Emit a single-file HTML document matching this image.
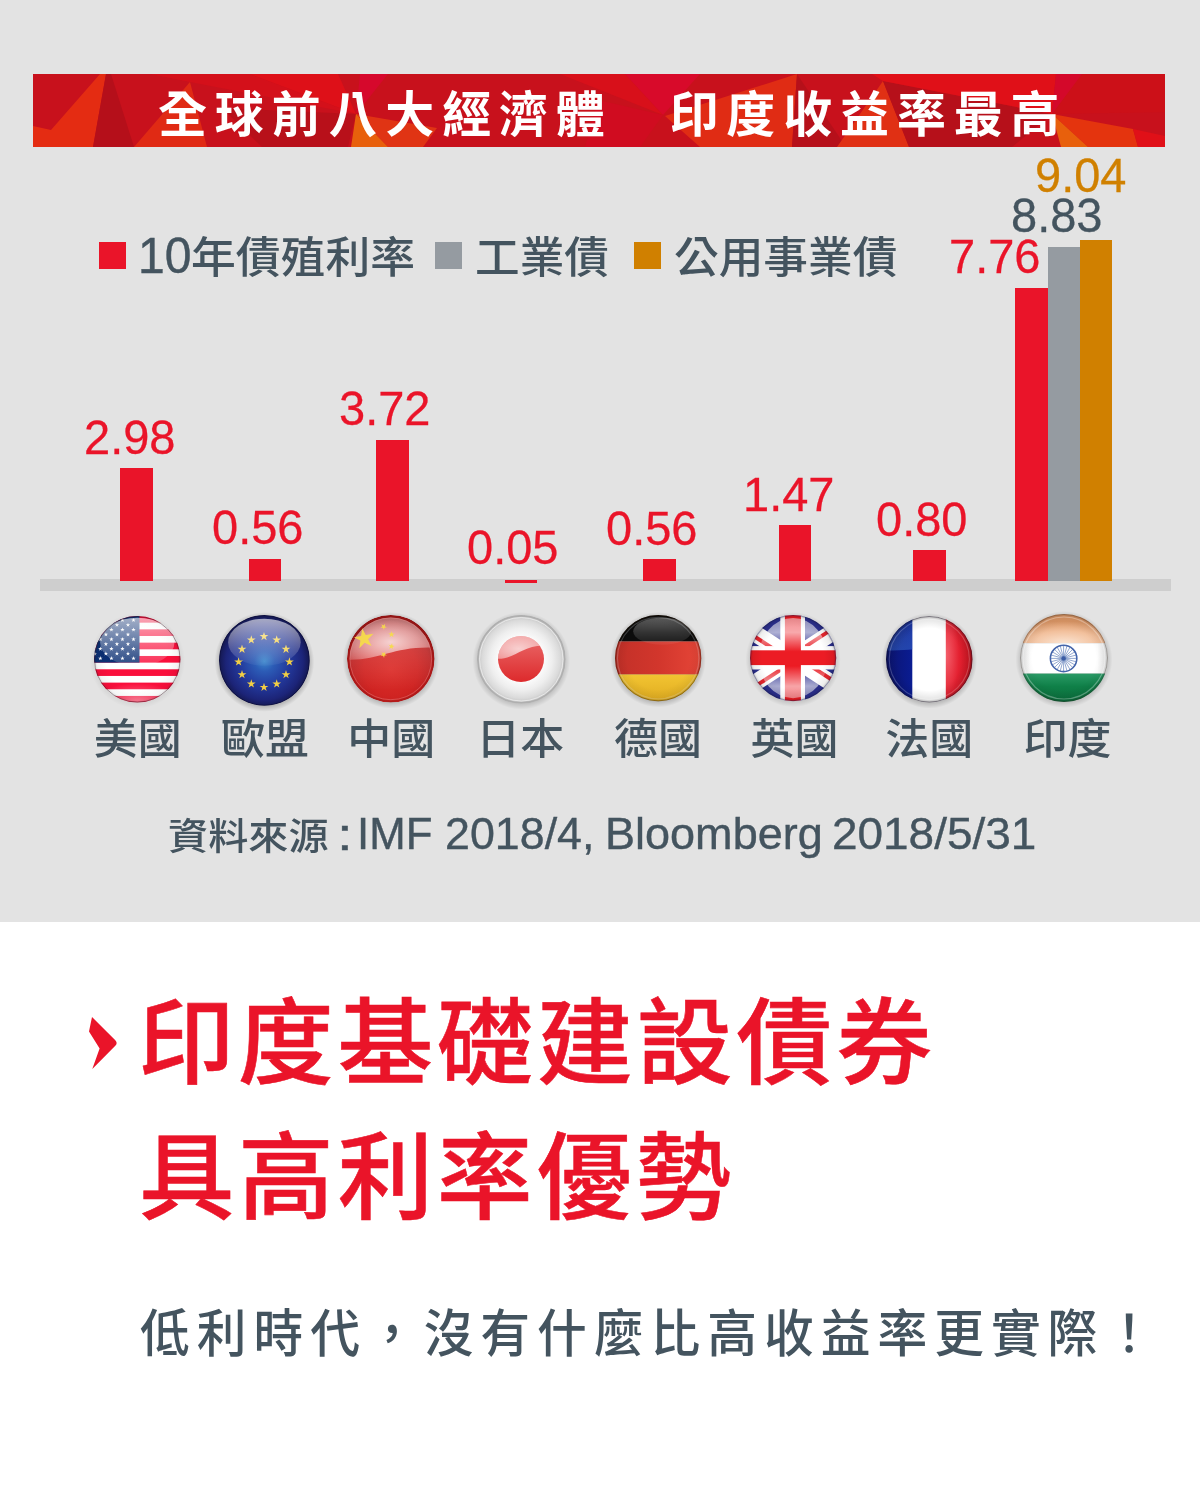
<!DOCTYPE html>
<html lang="zh-Hant">
<head>
<meta charset="utf-8">
<title>印度基礎建設債券 具高利率優勢</title>
<style>
html,body{margin:0;padding:0;}
body{width:1200px;height:1500px;background:#ffffff;position:relative;overflow:hidden;
 font-family:"Liberation Sans","Noto Sans CJK TC",sans-serif;}
.abs{position:absolute;}
.t{position:absolute;white-space:nowrap;line-height:1;transform-origin:0 0;}
#top{position:absolute;left:0;top:0;width:1200px;height:922.4px;background:#e3e3e3;}
.val{font-size:50px;font-weight:400;-webkit-text-stroke:0.3px currentColor;}
.lbl{font-size:44px;color:#44545f;font-weight:500;}
.leg{font-size:44px;color:#44545f;font-weight:500;}
.bar{position:absolute;background:#ea1429;}
.sq{position:absolute;width:27px;height:27px;top:242px;}
</style>
</head>
<body>
<div id="top"></div>

<svg class="abs" style="left:33px;top:74px" width="1132" height="73" viewBox="33 74 1132 73">
<rect x="33" y="74" width="1132" height="73" fill="#c8111c"/>
<polygon fill="#e42c12" points="100,74 106,74 93,147 33,147 33,126 51,130"/>
<polygon fill="#b50f1a" points="106,74 111,74 134,147 93,147"/>
<polygon fill="#d4101a" points="356,114 190,82 150,74 250,74"/>
<polygon fill="#de1018" points="356,114 250,74 338,74"/>
<polygon fill="#e02a14" points="190,82 207,147 134,147"/>
<polygon fill="#b8101a" points="356,114 222,108 262,147 348,147"/>
<polygon fill="#d6082c" points="356,114 360,74 388,74"/>
<polygon fill="#e03414" points="356,114 437,128 423,147 388,147"/>
<polygon fill="#e8600c" points="356,114 388,147 351,147"/>
<polygon fill="#d8101a" points="663,115 560,74 625,74"/>
<polygon fill="#d80a2a" points="663,115 625,74 700,74"/>
<polygon fill="#d00c20" points="663,115 598,100 585,147 640,147"/>
<polygon fill="#e02c14" points="797,74 792,147 700,147 665,116"/>
<polygon fill="#b6101a" points="797,74 846,147 792,147"/>
<polygon fill="#e03014" points="883,81 837,147 909,147"/>
<polygon fill="#b6101a" points="883,81 909,147 1012,147 1052,114"/>
<polygon fill="#e01018" points="883,81 872,74 1056,74 1052,114"/>
<polygon fill="#cc1018" points="1052,114 1082,74 1165,74 1165,112"/>
<polygon fill="#d4082a" points="1052,114 1056,74 1082,74"/>
<polygon fill="#e4340e" points="1052,114 1133,129 1138,147 1088,147"/>
<polygon fill="#e8600c" points="1052,114 1088,147 1061,147"/>
<polygon fill="#e01018" points="1133,129 1165,136 1165,147 1138,147"/>
</svg>
<div class="t" id="title" style="left:158.43px;top:90.90px;transform:scale(0.9989,0.9959);font-size:49px;letter-spacing:7.9px;color:#fff;font-weight:700;">全球前八大經濟體　印度收益率最高</div>
<div class="sq" style="left:99px;background:#ea1429"></div>
<div class="t" id="leg1n" style="left:138.19px;top:231.89px;transform:scale(0.9801,1.0092);font-size:49px;color:#44545f;font-weight:400;-webkit-text-stroke:0.45px #44545f;">10</div>
<div class="t leg" id="leg1" style="left:191.37px;top:237.31px;transform:scale(1.0183,0.9730);">年債殖利率</div>
<div class="sq" style="left:435px;background:#959ba1"></div>
<div class="t leg" id="leg2" style="left:474.97px;top:237.18px;transform:scale(1.0143,0.9754);">工業債</div>
<div class="sq" style="left:634px;background:#d08000"></div>
<div class="t leg" id="leg3" style="left:674.16px;top:237.25px;transform:scale(1.0155,0.9851);">公用事業債</div>
<div class="abs" style="left:40px;top:579.4px;width:1131px;height:11.8px;background:#cecece"></div>
<div class="bar" style="left:120px;top:467.6px;width:33px;height:113.2px;background:#ea1429"></div>
<div class="bar" style="left:248.8px;top:558.8px;width:32px;height:22px;background:#ea1429"></div>
<div class="bar" style="left:376.2px;top:440px;width:32.6px;height:140.8px;background:#ea1429"></div>
<div class="bar" style="left:642.8px;top:559px;width:33px;height:21.8px;background:#ea1429"></div>
<div class="bar" style="left:779px;top:525px;width:32px;height:55.8px;background:#ea1429"></div>
<div class="bar" style="left:913px;top:550px;width:32.8px;height:30.8px;background:#ea1429"></div>
<div class="bar" style="left:1015.4px;top:287.6px;width:32.6px;height:293.2px;background:#ea1429"></div>
<div class="bar" style="left:1048px;top:247px;width:32px;height:333.8px;background:#959ba1"></div>
<div class="bar" style="left:1080px;top:239.6px;width:32.3px;height:341.2px;background:#d08000"></div>
<div class="bar" style="left:505px;top:580px;width:32px;height:2.5px;"></div>
<div class="t val" id="v0" style="left:83.62px;top:413.49px;transform:scale(0.9400,0.9650);color:#ea1429;">2.98</div>
<div class="t val" id="v1" style="left:212.49px;top:503.46px;transform:scale(0.9400,0.9650);color:#ea1429;">0.56</div>
<div class="t val" id="v2" style="left:338.88px;top:384.41px;transform:scale(0.9400,0.9650);color:#ea1429;">3.72</div>
<div class="t val" id="v3" style="left:467.06px;top:523.03px;transform:scale(0.9400,0.9650);color:#ea1429;">0.05</div>
<div class="t val" id="v4" style="left:606.16px;top:503.96px;transform:scale(0.9400,0.9650);color:#ea1429;">0.56</div>
<div class="t val" id="v5" style="left:742.87px;top:470.15px;transform:scale(0.9400,0.9650);color:#ea1429;">1.47</div>
<div class="t val" id="v6" style="left:876.31px;top:495.13px;transform:scale(0.9400,0.9650);color:#ea1429;">0.80</div>
<div class="t val" id="v7" style="left:948.73px;top:232.39px;transform:scale(0.9400,0.9650);color:#ea1429;">7.76</div>
<div class="t val" id="v8" style="left:1010.87px;top:190.81px;transform:scale(0.9400,0.9650);color:#44545f;">8.83</div>
<div class="t val" id="v9" style="left:1035.27px;top:151.33px;transform:scale(0.9400,0.9650);color:#d08000;">9.04</div>
<div class="t lbl" id="l0" style="left:93.68px;top:718.30px;transform:scale(1.0000,0.9670);">美國</div>
<div class="t lbl" id="l1" style="left:221.10px;top:718.30px;transform:scale(1.0000,0.9670);">歐盟</div>
<div class="t lbl" id="l2" style="left:347.32px;top:718.30px;transform:scale(1.0000,0.9670);">中國</div>
<div class="t lbl" id="l3" style="left:476.29px;top:718.30px;transform:scale(1.0000,0.9670);">日本</div>
<div class="t lbl" id="l4" style="left:614.00px;top:718.30px;transform:scale(1.0000,0.9670);">德國</div>
<div class="t lbl" id="l5" style="left:750.62px;top:718.30px;transform:scale(1.0000,0.9670);">英國</div>
<div class="t lbl" id="l6" style="left:885.29px;top:718.30px;transform:scale(1.0000,0.9670);">法國</div>
<div class="t lbl" id="l7" style="left:1023.40px;top:718.30px;transform:scale(1.0000,0.9670);">印度</div>
<div class="t" id="srcC" style="left:168.27px;top:817.67px;transform:scale(1.0036,0.9355);font-size:40px;color:#44545f;font-weight:500;">資料來源</div>
<div class="t" id="s0" style="left:337.20px;top:812.00px;transform:scale(1.2557,0.9998);font-size:45px;color:#44545f;font-weight:400;-webkit-text-stroke:0.4px #44545f;">:</div>
<div class="t" id="s1" style="left:357.36px;top:812.18px;transform:scale(0.9728,0.9752);font-size:45px;color:#44545f;font-weight:400;-webkit-text-stroke:0.4px #44545f;">IMF</div>
<div class="t" id="s2" style="left:445.08px;top:812.18px;transform:scale(0.9953,0.9752);font-size:45px;color:#44545f;font-weight:400;-webkit-text-stroke:0.4px #44545f;">2018/4,</div>
<div class="t" id="s3" style="left:604.79px;top:812.18px;transform:scale(1.0006,0.9752);font-size:45px;color:#44545f;font-weight:400;-webkit-text-stroke:0.4px #44545f;">Bloomberg</div>
<div class="t" id="s4" style="left:832.43px;top:812.18px;transform:scale(1.0203,0.9752);font-size:45px;color:#44545f;font-weight:400;-webkit-text-stroke:0.4px #44545f;">2018/5/31</div>
<svg class="abs" style="left:85px;top:1012px" width="40" height="62" viewBox="85 1012 40 62"><path fill="#ea1429" d="M92 1017 L115.3 1040.2 Q118 1043 115.3 1045.8 L92.3 1069 L99.6 1048.4 L89 1031.4 Z"/></svg>
<div class="t" id="h1" style="left:137.92px;top:997.35px;transform:scale(0.9976,0.9821);font-size:96px;letter-spacing:4px;color:#ea1429;font-weight:500;-webkit-text-stroke:0.55px #ea1429;">印度基礎建設債券</div>
<div class="t" id="h2" style="left:139.00px;top:1131.80px;transform:scale(0.9937,0.9927);font-size:96px;letter-spacing:4px;color:#ea1429;font-weight:500;-webkit-text-stroke:0.55px #ea1429;">具高利率優勢</div>
<div class="t" id="sub" style="left:140.31px;top:1308.52px;transform:scale(0.9952,1.0208);font-size:50px;letter-spacing:7px;color:#44545f;font-weight:500;">低利時代，沒有什麼比高收益率更實際！</div>
<svg class="abs" style="left:85.7px;top:607.9px" width="102.6" height="102.6" viewBox="85.7 607.9 102.6 102.6">
<defs>
<clipPath id="c_us"><circle cx="137" cy="659.2" r="43.3"/></clipPath>
<radialGradient id="sh_us" cx="50%" cy="50%" r="50%"><stop offset="0.80" stop-color="#000" stop-opacity="0.1"/><stop offset="1" stop-color="#000" stop-opacity="0"/></radialGradient>
<radialGradient id="ed_us" cx="50%" cy="50%" r="50%"><stop offset="0.72" stop-color="#000" stop-opacity="0"/><stop offset="0.93" stop-color="#000" stop-opacity="0.10"/><stop offset="1" stop-color="#000" stop-opacity="0.32"/></radialGradient>
<linearGradient id="gl_us" x1="0" y1="0" x2="0" y2="1"><stop offset="0" stop-color="#fff" stop-opacity="0.62"/><stop offset="1" stop-color="#fff" stop-opacity="0.12"/></linearGradient>
<radialGradient id="bl_us" cx="50%" cy="100%" r="60%"><stop offset="0" stop-color="#fff" stop-opacity="0.45"/><stop offset="1" stop-color="#fff" stop-opacity="0"/></radialGradient>

</defs>
<circle cx="137" cy="660.7" r="47.8" fill="url(#sh_us)"/>
<g clip-path="url(#c_us)">
<rect x="93.7" y="615.9" width="86.6" height="86.6" fill="#fff"/>
<rect x="93.7" y="615.90" width="86.6" height="6.66" fill="#fa0f3c"/>
<rect x="93.7" y="629.22" width="86.6" height="6.66" fill="#fa0f3c"/>
<rect x="93.7" y="642.55" width="86.6" height="6.66" fill="#fa0f3c"/>
<rect x="93.7" y="655.87" width="86.6" height="6.66" fill="#fa0f3c"/>
<rect x="93.7" y="669.19" width="86.6" height="6.66" fill="#fa0f3c"/>
<rect x="93.7" y="682.52" width="86.6" height="6.66" fill="#fa0f3c"/>
<rect x="93.7" y="695.84" width="86.6" height="6.66" fill="#fa0f3c"/>
<rect x="93.7" y="615.9" width="45.5" height="46.63" fill="#0b2f73"/>
<polygon fill="#fff" points="133.20,617.80 133.72,619.39 135.39,619.39 134.04,620.37 134.55,621.96 133.20,620.98 131.85,621.96 132.36,620.37 131.01,619.39 132.68,619.39"/>
<polygon fill="#fff" points="122.15,617.80 122.67,619.39 124.34,619.39 122.99,620.37 123.50,621.96 122.15,620.98 120.80,621.96 121.31,620.37 119.96,619.39 121.63,619.39"/>
<polygon fill="#fff" points="111.10,617.80 111.62,619.39 113.29,619.39 111.94,620.37 112.45,621.96 111.10,620.98 109.75,621.96 110.26,620.37 108.91,619.39 110.58,619.39"/>
<polygon fill="#fff" points="100.05,617.80 100.57,619.39 102.24,619.39 100.89,620.37 101.40,621.96 100.05,620.98 98.70,621.96 99.21,620.37 97.86,619.39 99.53,619.39"/>
<polygon fill="#fff" points="89.00,617.80 89.52,619.39 91.19,619.39 89.84,620.37 90.35,621.96 89.00,620.98 87.65,621.96 88.16,620.37 86.81,619.39 88.48,619.39"/>
<polygon fill="#fff" points="127.70,622.57 128.22,624.16 129.89,624.16 128.54,625.14 129.05,626.73 127.70,625.75 126.35,626.73 126.86,625.14 125.51,624.16 127.18,624.16"/>
<polygon fill="#fff" points="116.65,622.57 117.17,624.16 118.84,624.16 117.49,625.14 118.00,626.73 116.65,625.75 115.30,626.73 115.81,625.14 114.46,624.16 116.13,624.16"/>
<polygon fill="#fff" points="105.60,622.57 106.12,624.16 107.79,624.16 106.44,625.14 106.95,626.73 105.60,625.75 104.25,626.73 104.76,625.14 103.41,624.16 105.08,624.16"/>
<polygon fill="#fff" points="94.55,622.57 95.07,624.16 96.74,624.16 95.39,625.14 95.90,626.73 94.55,625.75 93.20,626.73 93.71,625.14 92.36,624.16 94.03,624.16"/>
<polygon fill="#fff" points="133.20,627.34 133.72,628.93 135.39,628.93 134.04,629.91 134.55,631.50 133.20,630.52 131.85,631.50 132.36,629.91 131.01,628.93 132.68,628.93"/>
<polygon fill="#fff" points="122.15,627.34 122.67,628.93 124.34,628.93 122.99,629.91 123.50,631.50 122.15,630.52 120.80,631.50 121.31,629.91 119.96,628.93 121.63,628.93"/>
<polygon fill="#fff" points="111.10,627.34 111.62,628.93 113.29,628.93 111.94,629.91 112.45,631.50 111.10,630.52 109.75,631.50 110.26,629.91 108.91,628.93 110.58,628.93"/>
<polygon fill="#fff" points="100.05,627.34 100.57,628.93 102.24,628.93 100.89,629.91 101.40,631.50 100.05,630.52 98.70,631.50 99.21,629.91 97.86,628.93 99.53,628.93"/>
<polygon fill="#fff" points="89.00,627.34 89.52,628.93 91.19,628.93 89.84,629.91 90.35,631.50 89.00,630.52 87.65,631.50 88.16,629.91 86.81,628.93 88.48,628.93"/>
<polygon fill="#fff" points="127.70,632.11 128.22,633.70 129.89,633.70 128.54,634.68 129.05,636.27 127.70,635.29 126.35,636.27 126.86,634.68 125.51,633.70 127.18,633.70"/>
<polygon fill="#fff" points="116.65,632.11 117.17,633.70 118.84,633.70 117.49,634.68 118.00,636.27 116.65,635.29 115.30,636.27 115.81,634.68 114.46,633.70 116.13,633.70"/>
<polygon fill="#fff" points="105.60,632.11 106.12,633.70 107.79,633.70 106.44,634.68 106.95,636.27 105.60,635.29 104.25,636.27 104.76,634.68 103.41,633.70 105.08,633.70"/>
<polygon fill="#fff" points="94.55,632.11 95.07,633.70 96.74,633.70 95.39,634.68 95.90,636.27 94.55,635.29 93.20,636.27 93.71,634.68 92.36,633.70 94.03,633.70"/>
<polygon fill="#fff" points="133.20,636.88 133.72,638.47 135.39,638.47 134.04,639.45 134.55,641.04 133.20,640.06 131.85,641.04 132.36,639.45 131.01,638.47 132.68,638.47"/>
<polygon fill="#fff" points="122.15,636.88 122.67,638.47 124.34,638.47 122.99,639.45 123.50,641.04 122.15,640.06 120.80,641.04 121.31,639.45 119.96,638.47 121.63,638.47"/>
<polygon fill="#fff" points="111.10,636.88 111.62,638.47 113.29,638.47 111.94,639.45 112.45,641.04 111.10,640.06 109.75,641.04 110.26,639.45 108.91,638.47 110.58,638.47"/>
<polygon fill="#fff" points="100.05,636.88 100.57,638.47 102.24,638.47 100.89,639.45 101.40,641.04 100.05,640.06 98.70,641.04 99.21,639.45 97.86,638.47 99.53,638.47"/>
<polygon fill="#fff" points="89.00,636.88 89.52,638.47 91.19,638.47 89.84,639.45 90.35,641.04 89.00,640.06 87.65,641.04 88.16,639.45 86.81,638.47 88.48,638.47"/>
<polygon fill="#fff" points="127.70,641.65 128.22,643.24 129.89,643.24 128.54,644.22 129.05,645.81 127.70,644.83 126.35,645.81 126.86,644.22 125.51,643.24 127.18,643.24"/>
<polygon fill="#fff" points="116.65,641.65 117.17,643.24 118.84,643.24 117.49,644.22 118.00,645.81 116.65,644.83 115.30,645.81 115.81,644.22 114.46,643.24 116.13,643.24"/>
<polygon fill="#fff" points="105.60,641.65 106.12,643.24 107.79,643.24 106.44,644.22 106.95,645.81 105.60,644.83 104.25,645.81 104.76,644.22 103.41,643.24 105.08,643.24"/>
<polygon fill="#fff" points="94.55,641.65 95.07,643.24 96.74,643.24 95.39,644.22 95.90,645.81 94.55,644.83 93.20,645.81 93.71,644.22 92.36,643.24 94.03,643.24"/>
<polygon fill="#fff" points="133.20,646.42 133.72,648.01 135.39,648.01 134.04,648.99 134.55,650.58 133.20,649.60 131.85,650.58 132.36,648.99 131.01,648.01 132.68,648.01"/>
<polygon fill="#fff" points="122.15,646.42 122.67,648.01 124.34,648.01 122.99,648.99 123.50,650.58 122.15,649.60 120.80,650.58 121.31,648.99 119.96,648.01 121.63,648.01"/>
<polygon fill="#fff" points="111.10,646.42 111.62,648.01 113.29,648.01 111.94,648.99 112.45,650.58 111.10,649.60 109.75,650.58 110.26,648.99 108.91,648.01 110.58,648.01"/>
<polygon fill="#fff" points="100.05,646.42 100.57,648.01 102.24,648.01 100.89,648.99 101.40,650.58 100.05,649.60 98.70,650.58 99.21,648.99 97.86,648.01 99.53,648.01"/>
<polygon fill="#fff" points="89.00,646.42 89.52,648.01 91.19,648.01 89.84,648.99 90.35,650.58 89.00,649.60 87.65,650.58 88.16,648.99 86.81,648.01 88.48,648.01"/>
<polygon fill="#fff" points="127.70,651.19 128.22,652.78 129.89,652.78 128.54,653.76 129.05,655.35 127.70,654.37 126.35,655.35 126.86,653.76 125.51,652.78 127.18,652.78"/>
<polygon fill="#fff" points="116.65,651.19 117.17,652.78 118.84,652.78 117.49,653.76 118.00,655.35 116.65,654.37 115.30,655.35 115.81,653.76 114.46,652.78 116.13,652.78"/>
<polygon fill="#fff" points="105.60,651.19 106.12,652.78 107.79,652.78 106.44,653.76 106.95,655.35 105.60,654.37 104.25,655.35 104.76,653.76 103.41,652.78 105.08,652.78"/>
<polygon fill="#fff" points="94.55,651.19 95.07,652.78 96.74,652.78 95.39,653.76 95.90,655.35 94.55,654.37 93.20,655.35 93.71,653.76 92.36,652.78 94.03,652.78"/>
<polygon fill="#fff" points="133.20,655.96 133.72,657.55 135.39,657.55 134.04,658.53 134.55,660.12 133.20,659.14 131.85,660.12 132.36,658.53 131.01,657.55 132.68,657.55"/>
<polygon fill="#fff" points="122.15,655.96 122.67,657.55 124.34,657.55 122.99,658.53 123.50,660.12 122.15,659.14 120.80,660.12 121.31,658.53 119.96,657.55 121.63,657.55"/>
<polygon fill="#fff" points="111.10,655.96 111.62,657.55 113.29,657.55 111.94,658.53 112.45,660.12 111.10,659.14 109.75,660.12 110.26,658.53 108.91,657.55 110.58,657.55"/>
<polygon fill="#fff" points="100.05,655.96 100.57,657.55 102.24,657.55 100.89,658.53 101.40,660.12 100.05,659.14 98.70,660.12 99.21,658.53 97.86,657.55 99.53,657.55"/>
<polygon fill="#fff" points="89.00,655.96 89.52,657.55 91.19,657.55 89.84,658.53 90.35,660.12 89.00,659.14 87.65,660.12 88.16,658.53 86.81,657.55 88.48,657.55"/>
<circle cx="137" cy="659.2" r="43.3" fill="url(#ed_us)" fill-opacity="0.45"/>
<ellipse cx="137" cy="686.046" rx="34.64" ry="15.588" fill="url(#bl_us)"/>
<ellipse cx="137" cy="641.88" rx="37.238" ry="24.248" fill="url(#gl_us)"/>
</g>
<circle cx="137" cy="659.2" r="42.8" fill="none" stroke="rgba(60,30,40,0.45)" stroke-width="1"/>
</svg>
<svg class="abs" style="left:211.2px;top:607.1px" width="106.8" height="106.8" viewBox="211.2 607.1 106.8 106.8">
<defs>
<clipPath id="c_eu"><circle cx="264.6" cy="660.5" r="45.4"/></clipPath>
<radialGradient id="sh_eu" cx="50%" cy="50%" r="50%"><stop offset="0.80" stop-color="#000" stop-opacity="0.35"/><stop offset="1" stop-color="#000" stop-opacity="0"/></radialGradient>
<radialGradient id="ed_eu" cx="50%" cy="50%" r="50%"><stop offset="0.72" stop-color="#000" stop-opacity="0"/><stop offset="0.93" stop-color="#000" stop-opacity="0.10"/><stop offset="1" stop-color="#000" stop-opacity="0.32"/></radialGradient>
<linearGradient id="gl_eu" x1="0" y1="0" x2="0" y2="1"><stop offset="0" stop-color="#fff" stop-opacity="0.62"/><stop offset="1" stop-color="#fff" stop-opacity="0.12"/></linearGradient>
<radialGradient id="bl_eu" cx="50%" cy="100%" r="60%"><stop offset="0" stop-color="#fff" stop-opacity="0.45"/><stop offset="1" stop-color="#fff" stop-opacity="0"/></radialGradient>
<radialGradient id="eubg" cx="50%" cy="51%" r="50%"><stop offset="0" stop-color="#3b86cc"/><stop offset="0.22" stop-color="#2c5cb6"/><stop offset="0.55" stop-color="#23399c"/><stop offset="0.85" stop-color="#1c2478"/><stop offset="1" stop-color="#141850"/></radialGradient><linearGradient id="eugl" x1="0" y1="0" x2="0" y2="1"><stop offset="0" stop-color="#fff" stop-opacity="0.62"/><stop offset="0.6" stop-color="#fff" stop-opacity="0.25"/><stop offset="1" stop-color="#fff" stop-opacity="0.04"/></linearGradient>
</defs>
<circle cx="264.6" cy="662" r="49.9" fill="url(#sh_eu)"/>
<g clip-path="url(#c_eu)">
<circle cx="264.6" cy="660.5" r="45.4" fill="url(#eubg)"/>
<polygon fill="#f2cf45" points="264.20,632.00 265.23,635.18 268.57,635.18 265.87,637.14 266.90,640.32 264.20,638.36 261.50,640.32 262.53,637.14 259.83,635.18 263.17,635.18"/>
<polygon fill="#f2cf45" points="276.90,635.40 277.93,638.58 281.27,638.58 278.57,640.55 279.60,643.72 276.90,641.76 274.20,643.72 275.23,640.55 272.53,638.58 275.87,638.58"/>
<polygon fill="#f2cf45" points="286.20,644.70 287.23,647.88 290.57,647.88 287.87,649.84 288.90,653.02 286.20,651.06 283.49,653.02 284.53,649.84 281.82,647.88 285.16,647.88"/>
<polygon fill="#f2cf45" points="289.60,657.40 290.63,660.58 293.97,660.58 291.27,662.54 292.30,665.72 289.60,663.76 286.90,665.72 287.93,662.54 285.23,660.58 288.57,660.58"/>
<polygon fill="#f2cf45" points="286.20,670.10 287.23,673.28 290.57,673.28 287.87,675.24 288.90,678.42 286.20,676.46 283.49,678.42 284.53,675.24 281.82,673.28 285.16,673.28"/>
<polygon fill="#f2cf45" points="276.90,679.40 277.93,682.58 281.27,682.58 278.57,684.54 279.60,687.72 276.90,685.75 274.20,687.72 275.23,684.54 272.53,682.58 275.87,682.58"/>
<polygon fill="#f2cf45" points="264.20,682.80 265.23,685.98 268.57,685.98 265.87,687.94 266.90,691.12 264.20,689.16 261.50,691.12 262.53,687.94 259.83,685.98 263.17,685.98"/>
<polygon fill="#f2cf45" points="251.50,679.40 252.53,682.58 255.87,682.58 253.17,684.54 254.20,687.72 251.50,685.75 248.80,687.72 249.83,684.54 247.13,682.58 250.47,682.58"/>
<polygon fill="#f2cf45" points="242.20,670.10 243.24,673.28 246.58,673.28 243.87,675.24 244.91,678.42 242.20,676.46 239.50,678.42 240.53,675.24 237.83,673.28 241.17,673.28"/>
<polygon fill="#f2cf45" points="238.80,657.40 239.83,660.58 243.17,660.58 240.47,662.54 241.50,665.72 238.80,663.76 236.10,665.72 237.13,662.54 234.43,660.58 237.77,660.58"/>
<polygon fill="#f2cf45" points="242.20,644.70 243.24,647.88 246.58,647.88 243.87,649.84 244.91,653.02 242.20,651.06 239.50,653.02 240.53,649.84 237.83,647.88 241.17,647.88"/>
<polygon fill="#f2cf45" points="251.50,635.40 252.53,638.58 255.87,638.58 253.17,640.55 254.20,643.72 251.50,641.76 248.80,643.72 249.83,640.55 247.13,638.58 250.47,638.58"/>
<ellipse cx="264.6" cy="642.34" rx="36.32" ry="23.608" fill="url(#eugl)"/>
</g>
<circle cx="264.6" cy="660.5" r="44.9" fill="none" stroke="rgba(10,10,50,0.5)" stroke-width="1"/>
</svg>
<svg class="abs" style="left:338.6px;top:606.9px" width="103.6" height="103.6" viewBox="338.6 606.9 103.6 103.6">
<defs>
<clipPath id="c_cn"><circle cx="390.4" cy="658.7" r="43.8"/></clipPath>
<radialGradient id="sh_cn" cx="50%" cy="50%" r="50%"><stop offset="0.80" stop-color="#000" stop-opacity="0.3"/><stop offset="1" stop-color="#000" stop-opacity="0"/></radialGradient>
<radialGradient id="ed_cn" cx="50%" cy="50%" r="50%"><stop offset="0.72" stop-color="#000" stop-opacity="0"/><stop offset="0.93" stop-color="#000" stop-opacity="0.10"/><stop offset="1" stop-color="#000" stop-opacity="0.32"/></radialGradient>
<linearGradient id="gl_cn" x1="0" y1="0" x2="0" y2="1"><stop offset="0" stop-color="#fff" stop-opacity="0.62"/><stop offset="1" stop-color="#fff" stop-opacity="0.12"/></linearGradient>
<radialGradient id="bl_cn" cx="50%" cy="100%" r="60%"><stop offset="0" stop-color="#fff" stop-opacity="0.45"/><stop offset="1" stop-color="#fff" stop-opacity="0"/></radialGradient>
<radialGradient id="cnbg" cx="50%" cy="62%" r="56%"><stop offset="0" stop-color="#dc2e2a"/><stop offset="0.55" stop-color="#d02422"/><stop offset="0.82" stop-color="#bc1e1e"/><stop offset="0.94" stop-color="#a41818"/><stop offset="1" stop-color="#8e1414"/></radialGradient><radialGradient id="cngl" cx="50%" cy="60%" r="60%"><stop offset="0" stop-color="#fff" stop-opacity="0.76"/><stop offset="0.5" stop-color="#fff" stop-opacity="0.50"/><stop offset="1" stop-color="#fff" stop-opacity="0.20"/></radialGradient><linearGradient id="cnlo" gradientUnits="userSpaceOnUse" x1="0" y1="646" x2="0" y2="690"><stop offset="0" stop-color="#fff" stop-opacity="0.14"/><stop offset="1" stop-color="#fff" stop-opacity="0"/></linearGradient><clipPath id="cnin"><circle cx="390.4" cy="658.7" r="41.2"/></clipPath>
</defs>
<circle cx="390.4" cy="660.2" r="48.3" fill="url(#sh_cn)"/>
<g clip-path="url(#c_cn)">
<circle cx="390.4" cy="658.7" r="43.8" fill="url(#cnbg)"/>
<circle cx="390.4" cy="658.7" r="41.2" fill="url(#cnlo)"/>
<path d="M347.2 615.5 L347.2 659.5 C380.1 660.5 392.46 646 433.6 647.5 L433.6 615.5 Z" fill="url(#cngl)" clip-path="url(#cnin)"/>
<polygon fill="#f6dc48" fill-opacity="0.92" points="361.76,628.16 365.38,634.96 372.96,633.62 367.61,639.16 371.23,645.96 364.30,642.59 358.95,648.13 360.02,640.50 353.10,637.12 360.69,635.79"/>
<polygon fill="#f6dc48" fill-opacity="0.92" points="384.85,623.74 384.35,626.09 386.43,627.29 384.04,627.54 383.54,629.88 382.57,627.69 380.19,627.94 381.97,626.34 380.99,624.15 383.07,625.35"/>
<polygon fill="#f6dc48" fill-opacity="0.92" points="391.10,631.10 391.84,633.38 394.24,633.38 392.30,634.79 393.04,637.07 391.10,635.66 389.16,637.07 389.90,634.79 387.96,633.38 390.36,633.38"/>
<polygon fill="#f6dc48" fill-opacity="0.92" points="391.67,643.05 392.01,645.42 394.37,645.84 392.21,646.89 392.55,649.27 390.88,647.54 388.73,648.59 389.85,646.48 388.19,644.75 390.55,645.17"/>
<polygon fill="#f6dc48" fill-opacity="0.92" points="384.95,651.64 384.45,653.99 386.53,655.19 384.14,655.44 383.64,657.78 382.67,655.59 380.29,655.84 382.07,654.24 381.09,652.05 383.17,653.25"/>
<circle cx="390.4" cy="658.7" r="42.6" fill="none" stroke="#9a1616" stroke-opacity="0.55" stroke-width="1.6"/>
<circle cx="390.4" cy="658.7" r="40.9" fill="none" stroke="#f0a0a0" stroke-opacity="0.4" stroke-width="0.9"/>
</g>
</svg>
<svg class="abs" style="left:469.1px;top:606.7px" width="104.6" height="104.6" viewBox="469.1 606.7 104.6 104.6">
<defs>
<clipPath id="c_jp"><circle cx="521.4" cy="659" r="44.3"/></clipPath>
<radialGradient id="sh_jp" cx="50%" cy="50%" r="50%"><stop offset="0.80" stop-color="#000" stop-opacity="0.25"/><stop offset="1" stop-color="#000" stop-opacity="0"/></radialGradient>
<radialGradient id="ed_jp" cx="50%" cy="50%" r="50%"><stop offset="0.72" stop-color="#000" stop-opacity="0"/><stop offset="0.93" stop-color="#000" stop-opacity="0.10"/><stop offset="1" stop-color="#000" stop-opacity="0.32"/></radialGradient>
<linearGradient id="gl_jp" x1="0" y1="0" x2="0" y2="1"><stop offset="0" stop-color="#fff" stop-opacity="0.62"/><stop offset="1" stop-color="#fff" stop-opacity="0.12"/></linearGradient>
<radialGradient id="bl_jp" cx="50%" cy="100%" r="60%"><stop offset="0" stop-color="#fff" stop-opacity="0.45"/><stop offset="1" stop-color="#fff" stop-opacity="0"/></radialGradient>
<radialGradient id="jpbg" cx="50%" cy="50%" r="50%"><stop offset="0" stop-color="#ffffff"/><stop offset="0.5" stop-color="#fbfbfb"/><stop offset="0.7" stop-color="#eeeeee"/><stop offset="0.88" stop-color="#dadada"/><stop offset="1" stop-color="#bebebe"/></radialGradient><linearGradient id="jprd" x1="0" y1="0" x2="0" y2="1"><stop offset="0" stop-color="#ea6a6a"/><stop offset="1" stop-color="#dd2a2c"/></linearGradient><clipPath id="jpdisc"><circle cx="521.1" cy="658.7" r="23"/></clipPath><radialGradient id="jpgl" cx="45%" cy="60%" r="60%"><stop offset="0" stop-color="#fff" stop-opacity="0.72"/><stop offset="1" stop-color="#fff" stop-opacity="0.4"/></radialGradient>
</defs>
<circle cx="521.4" cy="660.5" r="48.8" fill="url(#sh_jp)"/>
<g clip-path="url(#c_jp)">
<circle cx="521.4" cy="659" r="44.3" fill="url(#jpbg)"/>
<circle cx="521.1" cy="658.7" r="23" fill="url(#jprd)"/>
<path clip-path="url(#jpdisc)" d="M496.1 633.7 L496.1 658.5 C515.35 659.5 522.25 644 546.1 645.5 L546.1 633.7 Z" fill="url(#jpgl)"/>
<circle cx="521.4" cy="659" r="43.5" fill="none" stroke="#adadad" stroke-opacity="0.9" stroke-width="1.8"/>
<circle cx="521.4" cy="659" r="41.7" fill="none" stroke="#fff" stroke-opacity="0.55" stroke-width="1"/>
</g>
</svg>
<svg class="abs" style="left:607.1px;top:607.2px" width="102.4" height="102.4" viewBox="607.1 607.2 102.4 102.4">
<defs>
<clipPath id="c_de"><circle cx="658.3" cy="658.4" r="43.2"/></clipPath>
<radialGradient id="sh_de" cx="50%" cy="50%" r="50%"><stop offset="0.80" stop-color="#000" stop-opacity="0.3"/><stop offset="1" stop-color="#000" stop-opacity="0"/></radialGradient>
<radialGradient id="ed_de" cx="50%" cy="50%" r="50%"><stop offset="0.72" stop-color="#000" stop-opacity="0"/><stop offset="0.93" stop-color="#000" stop-opacity="0.10"/><stop offset="1" stop-color="#000" stop-opacity="0.32"/></radialGradient>
<linearGradient id="gl_de" x1="0" y1="0" x2="0" y2="1"><stop offset="0" stop-color="#fff" stop-opacity="0.62"/><stop offset="1" stop-color="#fff" stop-opacity="0.12"/></linearGradient>
<radialGradient id="bl_de" cx="50%" cy="100%" r="60%"><stop offset="0" stop-color="#fff" stop-opacity="0.45"/><stop offset="1" stop-color="#fff" stop-opacity="0"/></radialGradient>
<linearGradient id="deyl" x1="0" y1="0" x2="0" y2="1"><stop offset="0" stop-color="#f2c432"/><stop offset="1" stop-color="#e0ac20"/></linearGradient><linearGradient id="dered" x1="0" y1="0" x2="1" y2="0"><stop offset="0" stop-color="#c23028"/><stop offset="0.5" stop-color="#d2362c"/><stop offset="1" stop-color="#e64638"/></linearGradient><linearGradient id="degl" x1="0" y1="0" x2="0" y2="1"><stop offset="0" stop-color="#fff" stop-opacity="0.34"/><stop offset="0.55" stop-color="#fff" stop-opacity="0.16"/><stop offset="1" stop-color="#fff" stop-opacity="0.05"/></linearGradient>
</defs>
<circle cx="658.3" cy="659.9" r="47.7" fill="url(#sh_de)"/>
<g clip-path="url(#c_de)">
<rect x="615.1" y="615.2" width="86.4" height="26.5" fill="#0c0c0c"/>
<rect x="615.1" y="641.7" width="86.4" height="33" fill="url(#dered)"/>
<rect x="615.1" y="674.7" width="86.4" height="26.9" fill="url(#deyl)"/>
<ellipse cx="662.3" cy="631.5" rx="29" ry="13.5" fill="url(#degl)"/>
<circle cx="658.3" cy="658.4" r="40.8" fill="none" stroke="#fff" stroke-opacity="0.22" stroke-width="1.2"/>
<circle cx="658.3" cy="658.4" r="43.2" fill="url(#ed_de)" fill-opacity="0.6"/>
</g>
<circle cx="658.3" cy="658.4" r="42.7" fill="none" stroke="rgba(40,20,0,0.35)" stroke-width="1"/>
</svg>
<svg class="abs" style="left:742.1px;top:606.7px" width="102.2" height="102.2" viewBox="742.1 606.7 102.2 102.2">
<defs>
<clipPath id="c_uk"><circle cx="793.2" cy="657.8" r="43.1"/></clipPath>
<radialGradient id="sh_uk" cx="50%" cy="50%" r="50%"><stop offset="0.80" stop-color="#000" stop-opacity="0.22"/><stop offset="1" stop-color="#000" stop-opacity="0"/></radialGradient>
<radialGradient id="ed_uk" cx="50%" cy="50%" r="50%"><stop offset="0.72" stop-color="#000" stop-opacity="0"/><stop offset="0.93" stop-color="#000" stop-opacity="0.10"/><stop offset="1" stop-color="#000" stop-opacity="0.32"/></radialGradient>
<linearGradient id="gl_uk" x1="0" y1="0" x2="0" y2="1"><stop offset="0" stop-color="#fff" stop-opacity="0.62"/><stop offset="1" stop-color="#fff" stop-opacity="0.12"/></linearGradient>
<radialGradient id="bl_uk" cx="50%" cy="100%" r="60%"><stop offset="0" stop-color="#fff" stop-opacity="0.45"/><stop offset="1" stop-color="#fff" stop-opacity="0"/></radialGradient>
<linearGradient id="ukv" x1="0" y1="0" x2="0" y2="1"><stop offset="0" stop-color="#fff" stop-opacity="0.5"/><stop offset="0.18" stop-color="#fff" stop-opacity="0.62"/><stop offset="0.42" stop-color="#fff" stop-opacity="0"/><stop offset="0.60" stop-color="#fff" stop-opacity="0"/><stop offset="0.85" stop-color="#fff" stop-opacity="0.6"/><stop offset="1" stop-color="#fff" stop-opacity="0.45"/></linearGradient><radialGradient id="uked" cx="50%" cy="50%" r="50%"><stop offset="0.80" stop-color="#1a1a6a" stop-opacity="0"/><stop offset="1" stop-color="#1a1a6a" stop-opacity="0.0"/></radialGradient>
</defs>
<circle cx="793.2" cy="659.3" r="47.6" fill="url(#sh_uk)"/>
<g clip-path="url(#c_uk)">
<rect x="726.9" y="614.7" width="132.6" height="86.2" fill="#2b2f8e"/>
<path d="M726.9 614.7 L859.5 700.9 M859.5 614.7 L726.9 700.9" stroke="#fff" stroke-width="16.7"/>
<path d="M725.292 617.173 L791.592 660.273" stroke="#e8262e" stroke-width="3.9"/>
<path d="M794.808 655.327 L861.108 698.427" stroke="#e8262e" stroke-width="3.9"/>
<path d="M857.892 612.227 L791.592 655.327" stroke="#e8262e" stroke-width="3.9"/>
<path d="M794.808 660.273 L728.508 703.373" stroke="#e8262e" stroke-width="3.9"/>
<rect x="780.4" y="614.7" width="24.7" height="86.2" fill="#fff"/>
<rect x="726.9" y="645.8" width="132.6" height="23.4" fill="#fff"/>
<rect x="785" y="614.7" width="16" height="86.2" fill="#ec1c24"/>
<rect x="726.9" y="650" width="132.6" height="14.8" fill="#ec1c24"/>
<ellipse cx="793.2" cy="657.8" rx="34.48" ry="40.083" fill="url(#ukv)"/>
<circle cx="793.2" cy="657.8" r="43.1" fill="url(#ed_uk)" fill-opacity="0.7"/>
</g>
<circle cx="793.2" cy="657.8" r="42.6" fill="none" stroke="rgba(30,30,80,0.35)" stroke-width="1"/>
</svg>
<svg class="abs" style="left:878.3px;top:607.6px" width="102.6" height="102.6" viewBox="878.3 607.6 102.6 102.6">
<defs>
<clipPath id="c_fr"><circle cx="929.6" cy="658.9" r="43.3"/></clipPath>
<radialGradient id="sh_fr" cx="50%" cy="50%" r="50%"><stop offset="0.80" stop-color="#000" stop-opacity="0.3"/><stop offset="1" stop-color="#000" stop-opacity="0"/></radialGradient>
<radialGradient id="ed_fr" cx="50%" cy="50%" r="50%"><stop offset="0.72" stop-color="#000" stop-opacity="0"/><stop offset="0.93" stop-color="#000" stop-opacity="0.10"/><stop offset="1" stop-color="#000" stop-opacity="0.32"/></radialGradient>
<linearGradient id="gl_fr" x1="0" y1="0" x2="0" y2="1"><stop offset="0" stop-color="#fff" stop-opacity="0.62"/><stop offset="1" stop-color="#fff" stop-opacity="0.12"/></linearGradient>
<radialGradient id="bl_fr" cx="50%" cy="100%" r="60%"><stop offset="0" stop-color="#fff" stop-opacity="0.45"/><stop offset="1" stop-color="#fff" stop-opacity="0"/></radialGradient>
<linearGradient id="frbl" x1="0" y1="0" x2="1" y2="0"><stop offset="0" stop-color="#0c1470"/><stop offset="1" stop-color="#0a1c92"/></linearGradient><radialGradient id="frrd" cx="0%" cy="45%" r="100%"><stop offset="0" stop-color="#f4606c"/><stop offset="0.5" stop-color="#e42030"/><stop offset="1" stop-color="#c81420"/></radialGradient><linearGradient id="frgl" x1="0" y1="0" x2="0" y2="1"><stop offset="0" stop-color="#5a90e0" stop-opacity="0.18"/><stop offset="1" stop-color="#3a70d0" stop-opacity="0.5"/></linearGradient><clipPath id="frblc"><rect x="880" y="610" width="32.6" height="100"/></clipPath>
</defs>
<circle cx="929.6" cy="660.4" r="47.8" fill="url(#sh_fr)"/>
<g clip-path="url(#c_fr)">
<rect x="886.3" y="615.6" width="86.6" height="86.6" fill="#fff"/>
<rect x="886.3" y="615.6" width="26.3" height="86.6" fill="url(#frbl)"/>
<rect x="946.1" y="615.6" width="26.8" height="86.6" fill="url(#frrd)"/>
<path clip-path="url(#frblc)" d="M887.3 616.6 L887.3 650 C919.525 651 931.615 643.5 971.9 645 L971.9 616.6 Z" fill="url(#frgl)"/>
<circle cx="929.6" cy="658.9" r="43.3" fill="url(#ed_fr)"/>
<circle cx="929.6" cy="658.9" r="40.1" fill="none" stroke="#fff" stroke-opacity="0.2" stroke-width="1.1"/>
</g>
<circle cx="929.6" cy="658.9" r="42.8" fill="none" stroke="rgba(30,20,40,0.4)" stroke-width="1"/>
</svg>
<svg class="abs" style="left:1012.4px;top:605.8px" width="104" height="104" viewBox="1012.4 605.8 104 104">
<defs>
<clipPath id="c_in"><circle cx="1064.4" cy="657.8" r="44"/></clipPath>
<radialGradient id="sh_in" cx="50%" cy="50%" r="50%"><stop offset="0.80" stop-color="#000" stop-opacity="0.26"/><stop offset="1" stop-color="#000" stop-opacity="0"/></radialGradient>
<radialGradient id="ed_in" cx="50%" cy="50%" r="50%"><stop offset="0.72" stop-color="#000" stop-opacity="0"/><stop offset="0.93" stop-color="#000" stop-opacity="0.10"/><stop offset="1" stop-color="#000" stop-opacity="0.32"/></radialGradient>
<linearGradient id="gl_in" x1="0" y1="0" x2="0" y2="1"><stop offset="0" stop-color="#fff" stop-opacity="0.62"/><stop offset="1" stop-color="#fff" stop-opacity="0.12"/></linearGradient>
<radialGradient id="bl_in" cx="50%" cy="100%" r="60%"><stop offset="0" stop-color="#fff" stop-opacity="0.45"/><stop offset="1" stop-color="#fff" stop-opacity="0"/></radialGradient>
<radialGradient id="insf" cx="50%" cy="100%" r="75%"><stop offset="0" stop-color="#fbe4d2"/><stop offset="0.55" stop-color="#f2c09c"/><stop offset="1" stop-color="#d89464"/></radialGradient><linearGradient id="ingr" x1="0" y1="0" x2="0" y2="1"><stop offset="0" stop-color="#2a9a66"/><stop offset="0.45" stop-color="#0f8048"/><stop offset="1" stop-color="#0a6a3a"/></linearGradient><linearGradient id="inwh" x1="0" y1="0" x2="1" y2="0"><stop offset="0" stop-color="#e4e4e4"/><stop offset="0.12" stop-color="#fff"/><stop offset="0.88" stop-color="#fff"/><stop offset="1" stop-color="#e4e4e4"/></linearGradient>
</defs>
<circle cx="1064.4" cy="659.3" r="48.5" fill="url(#sh_in)"/>
<g clip-path="url(#c_in)">
<rect x="1020.4" y="613.8" width="88" height="29.2" fill="url(#insf)"/>
<rect x="1020.4" y="643" width="88" height="30.4" fill="url(#inwh)"/>
<rect x="1020.4" y="673.4" width="88" height="28.4" fill="url(#ingr)"/>
<circle cx="1064" cy="658.2" r="13.2" fill="none" stroke="#4464aa" stroke-width="1.6"/>
<path d="M1064.00 658.20 L1077.20 658.20 M1064.00 658.20 L1076.75 661.62 M1064.00 658.20 L1075.43 664.80 M1064.00 658.20 L1073.33 667.53 M1064.00 658.20 L1070.60 669.63 M1064.00 658.20 L1067.42 670.95 M1064.00 658.20 L1064.00 671.40 M1064.00 658.20 L1060.58 670.95 M1064.00 658.20 L1057.40 669.63 M1064.00 658.20 L1054.67 667.53 M1064.00 658.20 L1052.57 664.80 M1064.00 658.20 L1051.25 661.62 M1064.00 658.20 L1050.80 658.20 M1064.00 658.20 L1051.25 654.78 M1064.00 658.20 L1052.57 651.60 M1064.00 658.20 L1054.67 648.87 M1064.00 658.20 L1057.40 646.77 M1064.00 658.20 L1060.58 645.45 M1064.00 658.20 L1064.00 645.00 M1064.00 658.20 L1067.42 645.45 M1064.00 658.20 L1070.60 646.77 M1064.00 658.20 L1073.33 648.87 M1064.00 658.20 L1075.43 651.60 M1064.00 658.20 L1076.75 654.78" stroke="#4a6cb0" stroke-width="0.7" stroke-opacity="0.85"/>
<circle cx="1064" cy="658.2" r="2.2" fill="#3b5ca4"/>
<circle cx="1064.4" cy="657.8" r="44" fill="url(#ed_in)" fill-opacity="0.55"/>
<circle cx="1064.4" cy="657.8" r="41" fill="none" stroke="#fff" stroke-opacity="0.3" stroke-width="1.2"/>
</g>
<circle cx="1064.4" cy="657.8" r="43.5" fill="none" stroke="rgba(60,50,40,0.3)" stroke-width="1"/>
</svg>
</body></html>
